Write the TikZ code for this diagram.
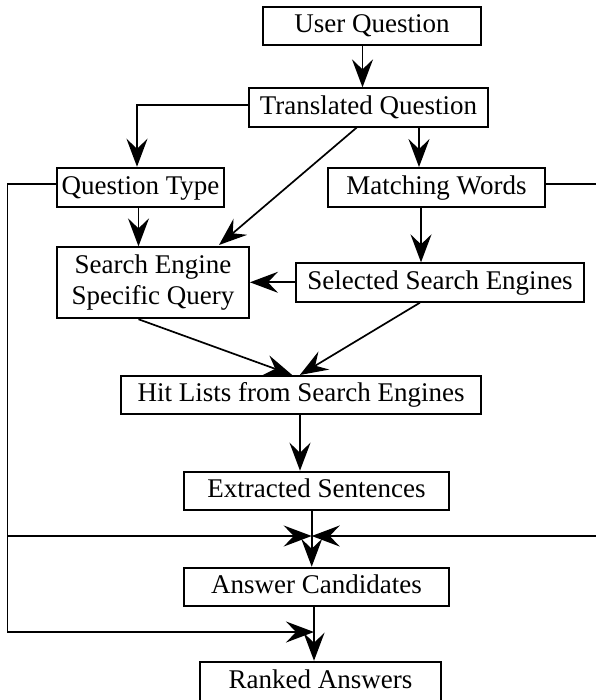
\documentclass[tikz,border=0pt]{standalone}
\usepackage{fontspec}
\setmainfont{Liberation Serif}
\usetikzlibrary{arrows.meta}
\begin{document}
\begin{tikzpicture}[x=1pt,y=-1pt,
  box/.style={draw, line width=1.9pt, inner sep=0pt, font=\fontsize{27}{31}\selectfont, align=center},
  one/.style={box, text height=19pt, text depth=5pt},
  conn/.style={line width=1.7pt},
  arr/.style={conn, -{Stealth[length=28pt,width=21pt,inset=10pt]}}]
\useasboundingbox (0,0) rectangle (595,700);
% boxes
\node[one, minimum width=218pt, minimum height=37.5pt] (uq)  at (372,26) {User Question};
\node[one, minimum width=239pt, minimum height=39pt]   (tq)  at (368.5,107.8) {Translated Question};
\node[one, minimum width=167pt, minimum height=39pt]   (qt)  at (140.5,187.2) {Question Type};
\node[one, minimum width=217pt, minimum height=39pt]   (mw)  at (436.5,187.5) {Matching Words};
\node[box, minimum width=192pt, minimum height=71pt]   (se)  at (153,282.8) {Search Engine\\Specific Query};
\node[one, minimum width=288pt, minimum height=38.4pt] (sse) at (440,282.5) {Selected Search Engines};
\node[one, minimum width=360pt, minimum height=38.3pt] (hl)  at (301,394.8) {Hit Lists from Search Engines};
\node[one, minimum width=265pt, minimum height=38.3pt] (es)  at (316.5,490.8) {Extracted Sentences};
\node[one, minimum width=265pt, minimum height=38.3pt] (ac)  at (316.5,586.8) {Answer Candidates};
\node[one, minimum width=241pt, minimum height=40pt]   (ra)  at (320.5,681.7) {Ranked Answers};
% helper coordinates
\coordinate (cUQ) at (362.5,0);
\coordinate (cMWa) at (419,0);
\coordinate (cTQL) at (0,105.3);
\coordinate (cQTa) at (137,0);
\coordinate (cQTb) at (138.5,0);
\coordinate (cSSE) at (421,0);
\coordinate (cY282) at (0,282.3);
\coordinate (cSEb) at (138.5,0);
\coordinate (cSSEb) at (420,0);
\coordinate (cHL) at (300,0);
\coordinate (cES) at (311.7,0);
\coordinate (cAC) at (314,0);
\coordinate (cY184) at (0,184);
\coordinate (dStart) at (357,127.3);
\coordinate (dEnd) at (219,245);
\coordinate (hlTipA) at (292.2,375);
\coordinate (hlTipB) at (299.8,375);
\coordinate (L1) at (7.5,184);
\coordinate (L2) at (7.5,536);
\coordinate (L3) at (7.5,632);
\coordinate (J1) at (311.7,536);
\coordinate (J2) at (314,632);
\coordinate (R1) at (600,184);
\coordinate (R2) at (600,536);
% connectors
\draw[arr] (uq.south -| cUQ) -- (tq.north -| cUQ);
\draw[arr] (tq.south -| cMWa) -- (mw.north -| cMWa);
\draw[arr] (tq.west |- cTQL) -| (qt.north -| cQTa);
\draw[arr] (dStart) -- (dEnd);
\draw[arr] (qt.south -| cQTb) -- (se.north -| cQTb);
\draw[arr] (mw.south -| cSSE) -- (sse.north -| cSSE);
\draw[arr] (sse.west |- cY282) -- (se.east |- cY282);
\draw[arr] (se.south -| cSEb) -- (hlTipA);
\draw[arr] (sse.south -| cSSEb) -- (hlTipB);
\draw[arr] (hl.south -| cHL) -- (es.north -| cHL);
\draw[arr] (es.south -| cES) -- (ac.north -| cES);
\draw[arr] (ac.south -| cAC) -- (ra.north -| cAC);
\draw[arr] (qt.west |- cY184) -- (L1) -- (L3) -- (J2);
\draw[arr] (L2) -- (J1);
\draw[conn] (mw.east |- cY184) -- (R1);
\draw[arr] (R2) -- (J1);
\end{tikzpicture}
\end{document}
